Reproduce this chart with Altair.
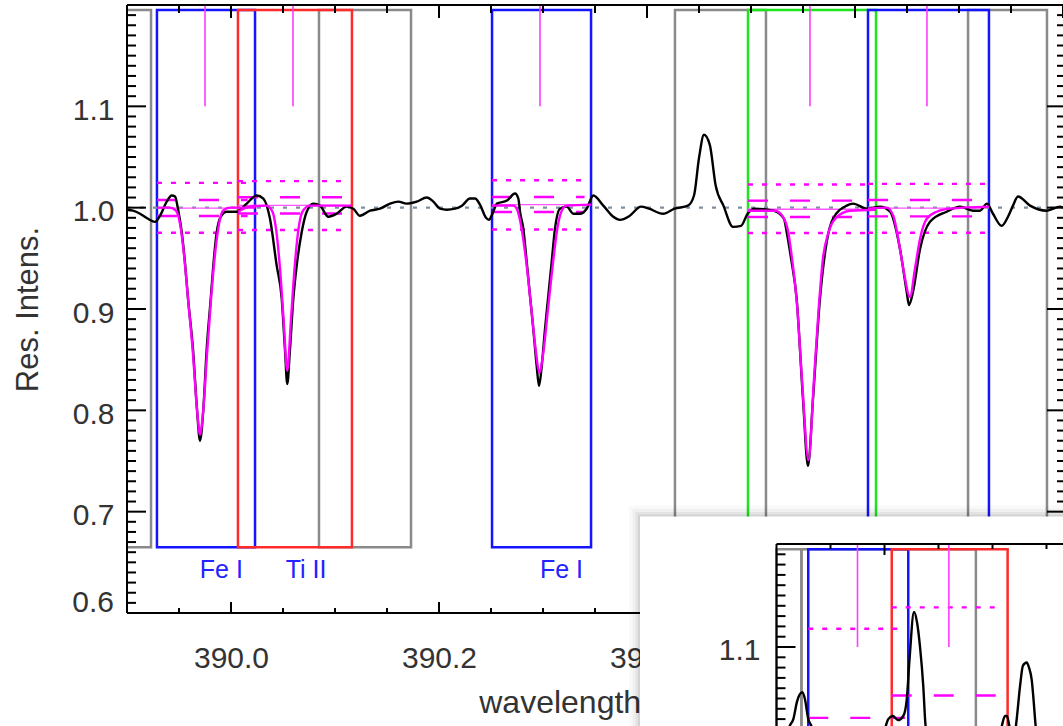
import altair as alt
import pandas as pd

# ---------------- values ----------------
# observed spectrum, main panel
spec_wl = [389.9000, 389.9058, 389.9125, 389.9202, 389.9269, 389.9317, 389.9382, 389.9430, 389.9462, 389.9490,
           389.9526, 389.9558, 389.9587, 389.9635, 389.9673, 389.9702, 389.9734, 389.9766, 389.9805, 389.9830,
           389.9863, 389.9901, 389.9959, 390.0055, 390.0151, 390.0247, 390.0311, 390.0375, 390.0439, 390.0488,
           390.0519, 390.0541, 390.0567, 390.0599, 390.0632, 390.0680, 390.0728, 390.0791, 390.0856, 390.0936,
           390.1016, 390.1113, 390.1176, 390.1240, 390.1337, 390.1433, 390.1529, 390.1609, 390.1689, 390.1786,
           390.1882, 390.1945, 390.2010, 390.2074, 390.2154, 390.2221, 390.2298, 390.2346, 390.2394, 390.2452,
           390.2481, 390.2510, 390.2558, 390.2654, 390.2731, 390.2763, 390.2779, 390.2811, 390.2843, 390.2875,
           390.2907, 390.2939, 390.2962, 390.2988, 390.3019, 390.3051, 390.3084, 390.3115, 390.3163, 390.3228,
           390.3291, 390.3356, 390.3420, 390.3484, 390.3580, 390.3676, 390.3740, 390.3834, 390.3942, 390.4019,
           390.4154, 390.4265, 390.4394, 390.4452, 390.4500, 390.4548, 390.4604, 390.4660, 390.4735, 390.4827,
           390.4904, 390.4967, 390.5036, 390.5221, 390.5317, 390.5343, 390.5385, 390.5439, 390.5500, 390.5548,
           390.5596, 390.5663, 390.5728, 390.5788, 390.5920, 390.5981, 390.6113, 390.6240, 390.6337, 390.6433,
           390.6497, 390.6519, 390.6558, 390.6625, 390.6721, 390.6882, 390.7010, 390.7135, 390.7202, 390.7269,
           390.7327, 390.7410, 390.7471, 390.7519, 390.7567, 390.7683, 390.7843, 390.7971, 390.8000]
spec_int = [0.998, 0.997, 0.994, 0.989, 0.986, 0.992, 1.006, 1.012, 1.011, 0.999,
            0.976, 0.945, 0.910, 0.860, 0.801, 0.770, 0.801, 0.860, 0.910, 0.943,
            0.976, 0.991, 0.996, 0.996, 1.004, 1.012, 1.009, 0.989, 0.943, 0.910,
            0.860, 0.826, 0.860, 0.910, 0.943, 0.976, 0.996, 1.004, 1.002, 0.991,
            0.994, 1.001, 0.999, 0.992, 0.997, 0.999, 1.004, 1.006, 1.004, 1.006,
            1.010, 1.006, 0.999, 0.998, 0.999, 1.002, 1.009, 1.009, 1.003, 0.990,
            0.988, 0.993, 1.004, 1.007, 1.014, 1.009, 0.996, 0.979, 0.947, 0.913,
            0.880, 0.844, 0.824, 0.844, 0.880, 0.913, 0.947, 0.979, 0.999, 1.001,
            0.994, 0.994, 0.999, 1.012, 1.002, 0.991, 0.988, 0.992, 1.001, 0.999,
            0.994, 0.999, 1.002, 1.012, 1.049, 1.072, 1.062, 1.022, 1.002, 0.981,
            0.982, 0.994, 0.999, 0.997, 0.989, 0.976, 0.950, 0.910, 0.811, 0.745,
            0.811, 0.910, 0.966, 0.989, 1.002, 1.004, 0.999, 1.001, 0.996, 0.959,
            0.917, 0.904, 0.917, 0.959, 0.986, 0.996, 1.001, 0.997, 0.997, 1.004,
            0.994, 0.982, 0.991, 1.002, 1.011, 1.002, 0.997, 1.001, 1.000]

# model fits (magenta), one list per fitted window
fitA_wl = [389.9288, 389.9413, 389.9471, 389.9510, 389.9548, 389.9587, 389.9635, 389.9673, 389.9702,
           389.9734, 389.9769, 389.9808, 389.9846, 389.9885, 389.9923, 389.9990, 390.0231]
fitA_int = [1.000, 1.000, 0.997, 0.984, 0.954, 0.910, 0.855, 0.801, 0.776,
            0.801, 0.855, 0.910, 0.954, 0.984, 0.997, 1.000, 1.000]
fitB_wl = [390.0067, 390.0183, 390.0337, 390.0394, 390.0433, 390.0471, 390.0505, 390.0541,
           390.0577, 390.0611, 390.0649, 390.0692, 390.0760, 390.1163]
fitB_int = [0.996, 1.001, 1.002, 0.997, 0.979, 0.940, 0.890, 0.839,
            0.890, 0.940, 0.979, 0.997, 1.002, 1.002]
fitC_wl = [390.2510, 390.2714, 390.2747, 390.2795, 390.2843, 390.2891, 390.2933, 390.2964,
           390.3003, 390.3045, 390.3093, 390.3137, 390.3180, 390.3228, 390.3462]
fitC_int = [1.002, 1.002, 0.999, 0.979, 0.943, 0.897, 0.857, 0.837,
            0.857, 0.897, 0.943, 0.979, 0.997, 1.002, 1.003]
fitD_wl = [390.4971, 390.5231, 390.5308, 390.5356, 390.5394, 390.5442, 390.5490, 390.5553,
           390.5606, 390.5654, 390.5692, 390.5740, 390.5817, 390.5952, 390.6202]
fitD_int = [0.997, 0.997, 0.991, 0.977, 0.950, 0.905, 0.831, 0.751,
            0.831, 0.905, 0.950, 0.974, 0.990, 0.997, 0.998]
fitE_wl = [390.6125, 390.6305, 390.6368, 390.6416, 390.6464, 390.6529, 390.6577, 390.6625,
           390.6690, 390.6786, 390.6913, 390.7288]
fitE_int = [0.999, 1.000, 0.992, 0.969, 0.940, 0.912, 0.940, 0.969,
            0.989, 0.996, 0.999, 1.001]

# fitted windows: continuum level and error levels (dashed / dotted)
win_lo = [389.9288, 390.0067, 390.2510, 390.4971, 390.6125]
win_hi = [390.0160, 390.1090, 390.3400, 390.6140, 390.7250]
win_cont = [0.9995, 1.0023, 1.0030, 0.9985, 0.9995]
win_dash_hi = [1.0076, 1.0103, 1.0106, 1.0069, 1.0076]
win_dash_lo = [0.9918, 0.9943, 0.9957, 0.9908, 0.9914]
win_dot_hi = [1.0245, 1.0262, 1.0270, 1.0228, 1.0235]
win_dot_lo = [0.9752, 0.9780, 0.9785, 0.9750, 0.9752]

# boxes (drawn in this order)
box_lo = [389.8500, 390.0846, 390.4269, 390.7087, 390.4971, 389.9288, 390.2510, 390.6125, 390.0067]
box_hi = [389.9231, 390.1731, 390.5144, 390.7846, 390.6202, 390.0231, 390.3462, 390.7288, 390.1163]
box_kind = ["grey", "grey", "grey", "grey", "green", "blue", "blue", "blue", "red"]
BOX_BOTTOM = 0.665
BOX_TOP = 1.195

# line markers and identifications
marker_wl = [389.9750, 390.0596, 390.2971, 390.5567, 390.6692]
label_wl = [389.9700, 390.0526, 390.2970]
label_txt = ["Fe I", "Ti II", "Fe I"]
LABEL_Y = 0.635

# axis tick values
x_major = [390.0, 390.2, 390.4, 390.6, 390.8]
x_labels = [390.0, 390.2, 390.4, 390.6]
x_minor = [389.95, 390.05, 390.1, 390.15, 390.25, 390.3, 390.35, 390.45, 390.5, 390.55, 390.65, 390.7, 390.75]
y_major = [0.6, 0.7, 0.8, 0.9, 1.0, 1.1]
y_labels = [0.7, 0.8, 0.9, 1.0, 1.1]
y_bottom_label = [0.6]
y_minor = [round(0.6 + 0.01 * i, 2) for i in range(1, 60) if i % 10 != 0]

# second (overlapping) window: spectrum of another star, same line windows
inset_box_lo = [389.9000, 389.9231, 389.9294, 390.0067]
inset_box_hi = [389.9231, 390.0846, 390.0220, 390.1140]
inset_box_kind = ["grey", "grey", "blue", "red"]
inset_wl = [389.9050, 389.9125, 389.9156, 389.9190, 389.9239, 389.9264, 389.9294, 389.9320, 389.9400,
            389.9950, 390.0014, 390.0035, 390.0076, 390.0125, 390.0174, 390.0206, 390.0231, 390.0273,
            390.0301, 390.0329, 390.0359, 390.0380, 390.0450, 390.1040, 390.1088, 390.1116, 390.1134,
            390.1155, 390.1180, 390.1205, 390.1224, 390.1255, 390.1282, 390.1317, 390.1338, 390.1363,
            390.1380, 390.1394, 390.1420, 390.1500]
inset_int = [0.990, 1.024, 1.030, 1.047, 1.056, 1.049, 1.030, 1.024, 0.990,
             0.990, 1.024, 1.030, 1.033, 1.029, 1.033, 1.049, 1.087, 1.134,
             1.124, 1.100, 1.062, 1.024, 0.990, 0.990, 1.024, 1.033, 1.033,
             1.024, 1.012, 1.015, 1.030, 1.062, 1.082, 1.085, 1.080, 1.068,
             1.049, 1.030, 1.005, 0.990]
inset_dot_lo = [389.9294, 390.0067]
inset_dot_hi = [390.0190, 390.1093]
inset_dot_y = [1.1177, 1.1385]
inset_dash_y = [1.0312, 1.0529]
inset_x_major = [390.0]
inset_x_minor = [389.95, 390.05, 390.1, 390.15]
inset_y_major = [1.1]
inset_y_minor = [round(1.0 + 0.01 * i, 2) for i in range(1, 20) if i % 10 != 0]
# inset window outline (in the inset's own coordinates)
inset_win = {"x": 389.7736, "x2": 390.40, "y": 1.2266, "y2": 0.80}

# ---------------- layout / style ----------------
W, H = 936, 608
FONT = "Liberation Sans"
TXT = "#333333"
MAG = "#ff00ff"
COLORS = {"grey": "#8a8a8a", "blue": "#1414ff", "red": "#ff2b2b", "green": "#1ee61e"}

XS = alt.Scale(domain=[389.9, 390.8], nice=False, zero=False)
YS = alt.Scale(domain=[0.6, 1.2], nice=False, zero=False)

# inset placement inside the main plot area (pixels) and its scale
IN_LEFT, IN_TOP = 649.5, 539.0
IN_PX_NM, IN_PX_UNIT = 1080.0, 1030.0
IXS = alt.Scale(domain=[389.9 - IN_LEFT / IN_PX_NM, 389.9 + (W - IN_LEFT) / IN_PX_NM], nice=False, zero=False)
IYS = alt.Scale(domain=[1.2 - (H - IN_TOP) / IN_PX_UNIT, 1.2 + IN_TOP / IN_PX_UNIT], nice=False, zero=False)

x_axis = alt.Axis(values=x_labels, format=".1f", title="wavelength (nm)", labelFontSize=30, labelFont=FONT,
                  labelColor=TXT, labelPadding=30, labelFlush=False, labelOverlap=False, ticks=False,
                  domain=False, grid=False, titleFontSize=32, titleFont=FONT, titleFontWeight="normal",
                  titleColor=TXT, titleX=470, titleY=99, titleBaseline="alphabetic", titleAlign="center")
y_axis = alt.Axis(values=y_labels, format=".1f", title="Res. Intens.", labelFontSize=30, labelFont=FONT,
                  labelColor=TXT, labelPadding=13, labelOffset=4, labelOverlap=False, ticks=False,
                  domain=False, grid=False, titleFontSize=31, titleFont=FONT, titleFontWeight="normal",
                  titleColor=TXT, titleX=-90, titleY=304, titleAngle=270, titleBaseline="alphabetic",
                  titleAlign="center")


def X(f="wl"):
    return alt.X(f"{f}:Q", scale=XS, axis=x_axis)


def Y(f="val"):
    return alt.Y(f"{f}:Q", scale=YS, axis=y_axis)


def IX(f="wl"):
    return alt.X(f"{f}:Q", scale=IXS, axis=None)


def IY(f="val"):
    return alt.Y(f"{f}:Q", scale=IYS, axis=None)


# ---------------- tables ----------------
spec_df = pd.DataFrame({"wl": spec_wl, "val": spec_int})
fits = []
for name, wl, it in [("A", fitA_wl, fitA_int), ("B", fitB_wl, fitB_int), ("C", fitC_wl, fitC_int),
                     ("D", fitD_wl, fitD_int), ("E", fitE_wl, fitE_int)]:
    for i, (a, b) in enumerate(zip(wl, it)):
        fits.append({"fit": name, "wl": a, "val": b, "o": i})
fit_df = pd.DataFrame(fits)
box_df = pd.DataFrame({"wl": box_lo, "wl2": box_hi, "val": BOX_BOTTOM, "val2": BOX_TOP,
                       "col": [COLORS[k] for k in box_kind], "o": list(range(len(box_lo)))})
ibox_df = pd.DataFrame({"wl": inset_box_lo, "wl2": inset_box_hi, "val": BOX_BOTTOM, "val2": BOX_TOP,
                        "col": [COLORS[k] for k in inset_box_kind], "o": list(range(len(inset_box_lo)))})

cont_df = pd.DataFrame({"wl": win_lo, "wl2": win_hi, "val": win_cont})
dash_df = pd.DataFrame({"wl": win_lo * 2, "wl2": win_hi * 2, "val": win_dash_hi + win_dash_lo})
dot_df = pd.DataFrame({"wl": win_lo * 2, "wl2": win_hi * 2, "val": win_dot_hi + win_dot_lo})
mark_df = pd.DataFrame({"wl": marker_wl, "val": 1.2, "val2": 1.1})
lab_df = pd.DataFrame({"wl": label_wl, "val": LABEL_Y, "txt": label_txt})
base_df = pd.DataFrame({"val": [1.0]})
ymaj_df = pd.DataFrame({"val": y_major})
ymin_df = pd.DataFrame({"val": y_minor})
xmaj_df = pd.DataFrame({"wl": x_major})
xmin_df = pd.DataFrame({"wl": x_minor})
ybot_df = pd.DataFrame({"val": y_bottom_label, "txt": ["0.6"]})

inset_df = pd.DataFrame({"wl": inset_wl, "val": inset_int})
idot_df = pd.DataFrame({"wl": inset_dot_lo, "wl2": inset_dot_hi, "val": inset_dot_y})
idash_df = pd.DataFrame({"wl": inset_dot_lo, "wl2": inset_dot_hi, "val": inset_dash_y})
iwin_df = pd.DataFrame([inset_win])

# ---------------- main panel ----------------
boxes = alt.Chart(box_df).mark_rect(filled=False, strokeWidth=2.5, clip=True).encode(
    x=X(), x2="wl2:Q", y=Y(), y2="val2:Q", stroke=alt.Stroke("col:N", scale=None), order="o:Q")
baseline = alt.Chart(base_df).mark_rule(color="#7d8ea3", strokeWidth=2.4, strokeDash=[4, 9]).encode(
    y=Y(), x=alt.value(0), x2=alt.value(W))
dots = alt.Chart(dot_df).mark_rule(color=MAG, strokeWidth=2.4, strokeDash=[5, 9]).encode(
    x=X(), x2="wl2:Q", y=Y())
dashes = alt.Chart(dash_df).mark_rule(color=MAG, strokeWidth=2.4, strokeDash=[20, 22]).encode(
    x=X(), x2="wl2:Q", y=Y())
conts = alt.Chart(cont_df).mark_rule(color="#ff55ff", strokeWidth=1.4).encode(
    x=X(), x2="wl2:Q", y=Y())
spec = alt.Chart(spec_df).mark_line(color="black", strokeWidth=2.4, interpolate="monotone").encode(
    x=X(), y=Y())
fitl = alt.Chart(fit_df).mark_line(color=MAG, strokeWidth=2.4, interpolate="monotone").encode(
    x=X(), y=Y(), detail="fit:N", order="o:Q")
markers = alt.Chart(mark_df).mark_rule(color="#ff3cff", strokeWidth=1.6).encode(
    x=X(), y=Y(), y2="val2:Q")
labels = alt.Chart(lab_df).mark_text(color="#2323ff", fontSize=25, font=FONT, align="left",
                                     baseline="alphabetic").encode(x=X(), y=Y(), text="txt:N")
ybot = alt.Chart(ybot_df).mark_text(color=TXT, fontSize=30, font=FONT, align="right",
                                    baseline="middle", dy=-10).encode(
    y=Y(), x=alt.value(-13), text="txt:N")

tick_style = dict(color="black", strokeWidth=2)
lt_maj = alt.Chart(ymaj_df).mark_rule(**tick_style).encode(y=Y(), x=alt.value(0), x2=alt.value(19))
lt_min = alt.Chart(ymin_df).mark_rule(**tick_style).encode(y=Y(), x=alt.value(0), x2=alt.value(9))
rt_maj = alt.Chart(ymaj_df).mark_rule(**tick_style).encode(y=Y(), x=alt.value(W - 16), x2=alt.value(W))
rt_min = alt.Chart(ymin_df).mark_rule(**tick_style).encode(y=Y(), x=alt.value(W - 6), x2=alt.value(W))
bt_maj = alt.Chart(xmaj_df).mark_rule(**tick_style).encode(x=X(), y=alt.value(H - 11), y2=alt.value(H))
bt_min = alt.Chart(xmin_df).mark_rule(**tick_style).encode(x=X(), y=alt.value(H - 5), y2=alt.value(H))
tp_maj = alt.Chart(xmaj_df).mark_rule(**tick_style).encode(x=X(), y=alt.value(0), y2=alt.value(13))
tp_min = alt.Chart(xmin_df).mark_rule(**tick_style).encode(x=X(), y=alt.value(0), y2=alt.value(8))
frame_top = alt.Chart(base_df).mark_rule(color="black", strokeWidth=2).encode(
    x=alt.value(0), x2=alt.value(W + 3), y=alt.value(0))
frame_left = alt.Chart(base_df).mark_rule(color="black", strokeWidth=2).encode(
    x=alt.value(0), y=alt.value(0), y2=alt.value(H))
frame_bot = alt.Chart(base_df).mark_rule(color="black", strokeWidth=2).encode(
    x=alt.value(0), x2=alt.value(W + 3), y=alt.value(H))

main = alt.layer(boxes, baseline, dots, dashes, conts, spec, fitl, markers, labels, ybot,
                 lt_maj, lt_min, rt_maj, rt_min, bt_maj, bt_min, tp_maj, tp_min,
                 frame_top, frame_left, frame_bot)

# ---------------- overlapping second window ----------------
shadows = [alt.Chart(iwin_df).mark_rect(filled=False, stroke="#000000", strokeOpacity=op, strokeWidth=sw).encode(
    x=IX("x"), x2="x2:Q", y=IY("y"), y2="y2:Q") for sw, op in [(22, 0.025), (15, 0.035), (9, 0.05), (4, 0.07)]]
win = alt.Chart(iwin_df).mark_rect(fill="white", stroke=None).encode(
    x=IX("x"), x2="x2:Q", y=IY("y"), y2="y2:Q")
iboxes = alt.Chart(ibox_df).mark_rect(filled=False, strokeWidth=2.5).encode(
    x=IX(), x2="wl2:Q", y=IY(), y2="val2:Q", stroke=alt.Stroke("col:N", scale=None), order="o:Q")
idots = alt.Chart(idot_df).mark_rule(color=MAG, strokeWidth=2.4, strokeDash=[5, 9]).encode(
    x=IX(), x2="wl2:Q", y=IY())
idashes = alt.Chart(idash_df).mark_rule(color=MAG, strokeWidth=2.4, strokeDash=[20, 22]).encode(
    x=IX(), x2="wl2:Q", y=IY())
ispec = alt.Chart(inset_df).mark_line(color="black", strokeWidth=2.4, interpolate="monotone").encode(
    x=IX(), y=IY())
imarkers = alt.Chart(mark_df).mark_rule(color="#ff3cff", strokeWidth=1.6).encode(
    x=IX(), y=IY(), y2="val2:Q")
ilt_maj = alt.Chart(pd.DataFrame({"val": inset_y_major})).mark_rule(**tick_style).encode(
    y=IY(), x=alt.value(IN_LEFT), x2=alt.value(IN_LEFT + 19))
ilt_min = alt.Chart(pd.DataFrame({"val": inset_y_minor})).mark_rule(**tick_style).encode(
    y=IY(), x=alt.value(IN_LEFT), x2=alt.value(IN_LEFT + 9))
itp_maj = alt.Chart(pd.DataFrame({"wl": inset_x_major})).mark_rule(**tick_style).encode(
    x=IX(), y=alt.value(IN_TOP), y2=alt.value(IN_TOP + 11))
itp_min = alt.Chart(pd.DataFrame({"wl": inset_x_minor})).mark_rule(**tick_style).encode(
    x=IX(), y=alt.value(IN_TOP), y2=alt.value(IN_TOP + 5))
iframe_top = alt.Chart(base_df).mark_rule(color="black", strokeWidth=2).encode(
    x=alt.value(IN_LEFT), x2=alt.value(W + 3), y=alt.value(IN_TOP))
iframe_left = alt.Chart(base_df).mark_rule(color="black", strokeWidth=2).encode(
    x=alt.value(IN_LEFT), y=alt.value(IN_TOP), y2=alt.value(H + 130))
ilabel = alt.Chart(pd.DataFrame({"val": inset_y_major, "txt": ["1.1"]})).mark_text(
    fontSize=30, font=FONT, color=TXT, align="right", baseline="middle", dy=4).encode(
    y=IY(), x=alt.value(IN_LEFT - 16), text="txt:N")

inset = alt.layer(*shadows, win, iboxes, idots, idashes, ispec, imarkers,
                  ilt_maj, ilt_min, itp_maj, itp_min, iframe_top, iframe_left, ilabel)

chart = alt.layer(main, inset).resolve_scale(x="independent", y="independent").properties(
    width=W, height=H,
    autosize=alt.AutoSizeParams(type="none"),
    padding={"left": 127, "top": 5, "right": 0, "bottom": 113},
).configure_view(stroke=None)

chart.save("out.html", embed_options={"renderer": "svg", "actions": False})
